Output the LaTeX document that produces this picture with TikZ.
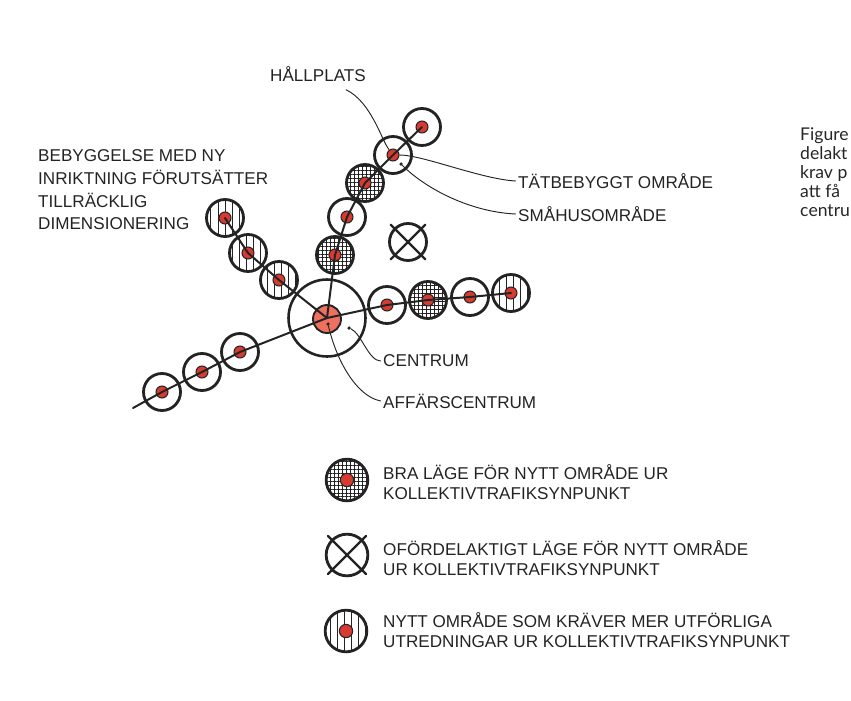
\documentclass[tikz,border=0pt]{standalone}
\usepackage{fontspec}
\setmainfont{Liberation Sans}
\newfontfamily\capfont{Lato}
\usetikzlibrary{patterns.meta}
\definecolor{dotred}{RGB}{214,58,48}
\definecolor{corered}{RGB}{240,112,96}
\definecolor{ink}{RGB}{35,35,35}

\begin{document}
\begin{tikzpicture}[x=0.03cm,y=-0.03cm,line cap=round]
    \tikzstyle{zone}=[circle,draw=ink,line width=2.4pt,minimum size=1.11cm,inner sep=0pt]
    \tikzstyle{plain zone}=[zone];
    \tikzstyle{dense zone}=[zone,pattern={Hatch[angle=0,distance=3.4pt,line width=0.6pt]},pattern color=ink];
    \tikzstyle{study zone}=[zone,pattern={Lines[angle=90,distance=6pt,line width=0.7pt]},pattern color=ink];
    \tikzstyle{core}=[circle,fill=corered,draw=ink,line width=1.6pt,minimum size=0.84cm,inner sep=0pt]
    \tikzstyle{stop dot}=[circle,fill=dotred,draw=ink,line width=0.9pt,minimum size=0.36cm,inner sep=0pt]
    \tikzstyle{pointer}=[circle,fill=ink,minimum size=3pt,inner sep=0pt]
    \tikzstyle{branch}=[draw=ink,line width=1.7pt]
    \tikzstyle{leader}=[draw=ink,line width=0.8pt]
    \tikzstyle{annot}=[font=\fontsize{14.6}{17}\selectfont,text=ink,anchor=west,inner sep=0pt,align=left]

    \useasboundingbox (0,0) rectangle (851,700);

    % Draw the centre
    \node[zone,minimum size=2.31cm,line width=2.2pt] (C) at (327,318) {};
    \node[core] (c) at (327,319) {};

    % Draw the stops along each line
    \foreach \name / \x / \y / \kind in {1/335/255/dense zone,2/347/217/plain zone,3/365/183/dense zone,4/393/155/plain zone,5/422/127/plain zone}
        \node[\kind] (N-\name) at (\x,\y) {};
    \foreach \name / \x / \y in {1/279/280,2/248/253,3/225/218}
        \node[study zone] (W-\name) at (\x,\y) {};
    \foreach \name / \x / \y / \kind in {1/387/305/plain zone,2/428/300/dense zone,3/470/297/plain zone,4/511/293/study zone}
        \node[\kind] (E-\name) at (\x,\y) {};
    \foreach \name / \x / \y in {1/240/352,2/202/372,3/162/392}
        \node[plain zone] (S-\name) at (\x,\y) {};
    \coordinate (sw) at (133,408);

    % Red stop in every circle
    \foreach \n in {N-1,N-2,N-3,N-4,N-5,W-1,W-2,W-3,E-1,E-2,E-3,E-4,S-1,S-2,S-3}
        \node[stop dot] (\n-d) at (\n) {};

    % Connect the stops
    \foreach \a / \b in {C/N-1,N-1/N-2,N-2/N-3,N-3/N-4,N-4/N-5,C/W-1,W-1/W-2,W-2/W-3,C/E-1,E-1/E-2,E-2/E-3,E-3/E-4,C/S-1,S-1/S-2,S-2/S-3,S-3/sw}
        \draw[branch] (\a.center) -- (\b.center);

    % Unsuitable area
    \node[zone] (X) at (408,242) {};
    \draw[branch,line width=2pt,shorten <=-4pt,shorten >=-4pt] (X.north west) -- (X.south east);
    \draw[branch,line width=2pt,shorten <=-4pt,shorten >=-4pt] (X.north east) -- (X.south west);

    % Annotate the plan
    \node[pointer] (p-smahus) at (401,164) {};
    \node[pointer] (p-centrum) at (349,328) {};
    \node[pointer] (p-affars) at (328,324) {};
    \node[annot,anchor=center] (hallplats) at (318,74) {HÅLLPLATS};
    \node[annot] (tatbebyggt) at (518,181) {TÄTBEBYGGT OMRÅDE};
    \node[annot] (smahus) at (518,214) {SMÅHUSOMRÅDE};
    \node[annot] (centrum) at (383,361) {CENTRUM};
    \node[annot] (affars) at (383,401) {AFFÄRSCENTRUM};
    \node[annot,font=\fontsize{14.6}{19.3}\selectfont] (bebyggelse) at (38,190) {BEBYGGELSE MED NY\\INRIKTNING FÖRUTSÄTTER\\TILLRÄCKLIG\\DIMENSIONERING};

    \draw[leader] ([shift={(-20,8)}]hallplats.south east) .. controls +(25,12) and +(-12,-16) .. (N-4-d);
    \draw[leader] ([xshift=-2pt]tatbebyggt.west) .. controls +(-35,-2) and +(30,0) .. (N-4-d);
    \draw[leader] ([xshift=-2pt]smahus.west) .. controls +(-45,-2) and +(25,25) .. (p-smahus);
    \draw[leader] ([xshift=-2pt]centrum.west) .. controls +(-12,0) and +(12,5) .. (p-centrum);
    \draw[leader] ([xshift=-2pt]affars.west) .. controls +(-25,-5) and +(8,35) .. (p-affars);

    % Legend
    \node[dense zone,minimum size=1.25cm] (L-1) at (347,480) {};
    \node[stop dot,minimum size=0.4cm] (L-1-d) at (L-1) {};
    \node[zone,minimum size=1.25cm] (L-2) at (347,555) {};
    \draw[branch,line width=2pt,shorten <=-4pt,shorten >=-4pt] (L-2.north west) -- (L-2.south east);
    \draw[branch,line width=2pt,shorten <=-4pt,shorten >=-4pt] (L-2.north east) -- (L-2.south west);
    \node[study zone,minimum size=1.25cm] (L-3) at (346,631) {};
    \node[stop dot,minimum size=0.4cm] (L-3-d) at (L-3) {};
    \node[annot] (T-1) at (383,482) {BRA LÄGE FÖR NYTT OMRÅDE UR\\KOLLEKTIVTRAFIKSYNPUNKT};
    \node[annot] (T-2) at (383,558) {OFÖRDELAKTIGT LÄGE FÖR NYTT OMRÅDE\\UR KOLLEKTIVTRAFIKSYNPUNKT};
    \node[annot] (T-3) at (383,630) {NYTT OMRÅDE SOM KRÄVER MER UTFÖRLIGA\\UTREDNINGAR UR KOLLEKTIVTRAFIKSYNPUNKT};

    % Caption cut by the edge
    \node[annot,font=\capfont\fontsize{15}{16.2}\selectfont,text=black!85] (caption) at (800,172) {Figure\\delakt\\krav p\\att få\\centru};
\end{tikzpicture}
\end{document}
